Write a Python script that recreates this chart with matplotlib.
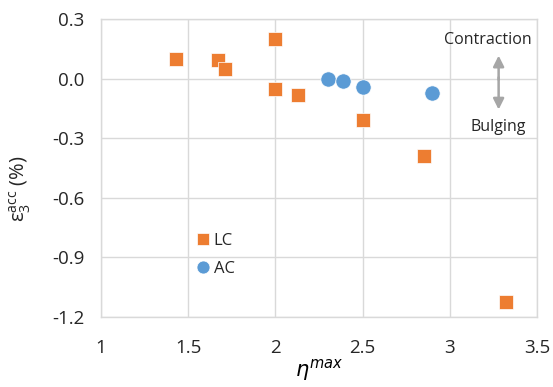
import matplotlib
matplotlib.use("Agg")
import matplotlib.pyplot as plt

plt.rcParams['font.family'] = ['Open Sans', 'DejaVu Sans']
plt.rcParams['mathtext.fontset'] = 'dejavusans'

# LC series
lc_x = [1.43, 1.67, 1.71, 2.0, 2.0, 2.13, 2.5, 2.85, 3.32]
lc_y = [0.10, 0.095, 0.05, 0.20, -0.05, -0.085, -0.21, -0.39, -1.125]
# AC series
ac_x = [2.3, 2.39, 2.5, 2.9]
ac_y = [0.0, -0.01, -0.04, -0.07]

x_ticks = [1, 1.5, 2, 2.5, 3, 3.5]
x_labels = ["1", "1.5", "2", "2.5", "3", "3.5"]
y_ticks = [-1.2, -0.9, -0.6, -0.3, 0.0, 0.3]
y_labels = ["-1.2", "-0.9", "-0.6", "-0.3", "0.0", "0.3"]

orange = "#ED7D31"
blue = "#5B9BD5"
grid_c = "#D9D9D9"

fig = plt.figure(figsize=(5.53, 3.87), dpi=100)
ax = fig.add_axes([101/553, 1 - 317/387, 436/553, 298/387])

ax.plot(lc_x, lc_y, "s", color=orange, markersize=10, markeredgecolor="white",
        markeredgewidth=0.5, label="LC", zorder=3)
ax.plot(ac_x, ac_y, "o", color=blue, markersize=11, markeredgecolor="white",
        markeredgewidth=0.5, label="AC", zorder=3)

ax.set_xlim(1, 3.5)
ax.set_ylim(-1.2, 0.3)
ax.set_xticks(x_ticks)
ax.set_xticklabels(x_labels)
ax.set_yticks(y_ticks)
ax.set_yticklabels(y_labels)
ax.tick_params(length=0, labelsize=13.5, pad=12, colors="#262626")
ax.tick_params(axis="x", pad=16)
ax.grid(True, color=grid_c, linewidth=1)
ax.set_axisbelow(True)
for sp in ax.spines.values():
    sp.set_color(grid_c)
    sp.set_linewidth(1)

ax.set_xlabel(r"$\eta^{max}$", fontsize=15, labelpad=0)
ax.set_ylabel(r"$\mathregular{ε_3^{acc}}$ (%)", fontsize=14.5, color="#262626")
ax.yaxis.set_label_coords(-0.156, 0.43)

leg = ax.legend(loc="upper left", bbox_to_anchor=(0.195, 0.31), frameon=False,
                fontsize=12, handletextpad=0.15, labelspacing=0.7,
                handlelength=1.0, borderpad=0, markerscale=0.85)
for t in leg.get_texts():
    t.set_color("#262626")

# contraction / bulging annotation
ax.annotate("", xy=(3.28, 0.13), xytext=(3.28, -0.02), xycoords="data",
            arrowprops=dict(arrowstyle="-|>", color="#A6A6A6", lw=1.8, mutation_scale=16))
ax.annotate("", xy=(3.28, -0.17), xytext=(3.28, 0.02), xycoords="data",
            arrowprops=dict(arrowstyle="-|>", color="#A6A6A6", lw=1.8, mutation_scale=16))
ax.text(3.22, 0.195, "Contraction", ha="center", va="center", fontsize=11.5,
        color="#262626")
ax.text(3.28, -0.243, "Bulging", ha="center", va="center", fontsize=11.5,
        color="#262626")

fig.savefig("out.png", dpi=100)
